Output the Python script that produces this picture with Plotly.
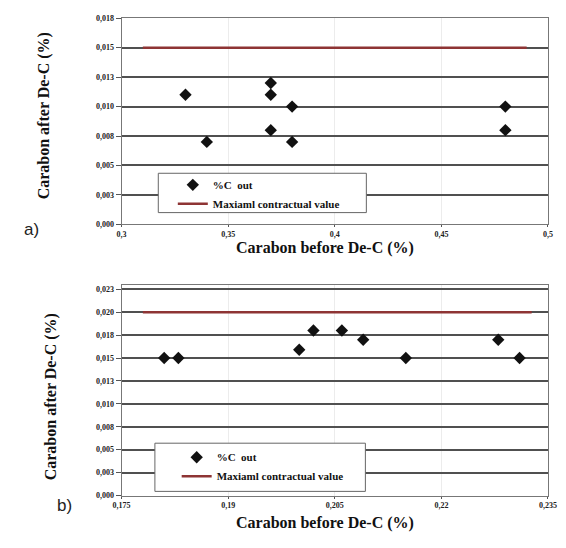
import plotly.graph_objects as go

# ---------------- data ----------------
# panel a)
a_x = [0.33, 0.34, 0.37, 0.37, 0.37, 0.38, 0.38, 0.48, 0.48]
a_y = [0.011, 0.007, 0.012, 0.011, 0.008, 0.010, 0.007, 0.010, 0.008]
a_max_x = [0.31, 0.49]
a_max_y = [0.015, 0.015]
a_xticks = [0.3, 0.35, 0.4, 0.45, 0.5]
a_xtext = ["0,3", "0,35", "0,4", "0,45", "0,5"]
a_yticks = [0, 0.0025, 0.005, 0.0075, 0.01, 0.0125, 0.015, 0.0175]
a_ytext = ["0,000", "0,003", "0,005", "0,008", "0,010", "0,013", "0,015", "0,018"]

# panel b)
b_x = [0.181, 0.183, 0.200, 0.202, 0.206, 0.209, 0.215, 0.228, 0.231]
b_y = [0.015, 0.015, 0.0159, 0.018, 0.018, 0.017, 0.015, 0.017, 0.015]
b_max_x = [0.178, 0.2327]
b_max_y = [0.020, 0.020]
b_xticks = [0.175, 0.19, 0.205, 0.22, 0.235]
b_xtext = ["0,175", "0,19", "0,205", "0,22", "0,235"]
b_yticks = [0, 0.0025, 0.005, 0.0075, 0.01, 0.0125, 0.015, 0.0175, 0.02, 0.0225]
b_ytext = ["0,000", "0,003", "0,005", "0,008", "0,010", "0,013", "0,015", "0,018", "0,020", "0,023"]

names = ["%C  out", "Maxiaml contractual value"]
x_title = "Carabon before De-C (%)"
y_title = "Carabon after De-C (%)"

# ---------------- figure ----------------
# the page body adds an 8px margin, so the figure is placed 8px in and
# reference pixel coordinates are shifted by 8px
OFF = 8
W, H = 566 - OFF, 548 - OFF
def px(x):
    return (x - OFF) / W
def py(y):
    return 1 - (y - OFF) / H

SERIF = "Liberation Serif"
mcol = "#111111"
rcol = "#8e3434"

fig = go.Figure()
fig.add_trace(go.Scatter(x=a_x, y=a_y, mode="markers", name=names[0],
                         marker=dict(symbol="diamond", size=9.5, color=mcol),
                         xaxis="x", yaxis="y", legend="legend"))
fig.add_trace(go.Scatter(x=a_max_x, y=a_max_y, mode="lines", name=names[1],
                         line=dict(color=rcol, width=2.5),
                         xaxis="x", yaxis="y", legend="legend"))
fig.add_trace(go.Scatter(x=b_x, y=b_y, mode="markers", name=names[0],
                         marker=dict(symbol="diamond", size=9.5, color=mcol),
                         xaxis="x2", yaxis="y2", legend="legend2"))
fig.add_trace(go.Scatter(x=b_max_x, y=b_max_y, mode="lines", name=names[1],
                         line=dict(color=rcol, width=2.5),
                         xaxis="x2", yaxis="y2", legend="legend2"))

tickfont = dict(family=SERIF, size=8, color="#222", weight="bold")
common_x = dict(showgrid=True, gridcolor="#ececec", gridwidth=1, zeroline=False,
                showline=True, linecolor="#777", linewidth=1, mirror=True,
                ticks="outside", ticklen=2, tickcolor="#555", tickfont=tickfont)
common_y = dict(showgrid=True, gridcolor="#505050", gridwidth=1.5, zeroline=False,
                showline=True, linecolor="#777", linewidth=1, mirror=True,
                ticks="outside", ticklen=5, tickcolor="#555", tickfont=tickfont)

legfont = dict(family=SERIF, size=11, color="#111", weight="bold")
fig.update_layout(
    width=W, height=H,
    margin=dict(l=0, r=0, t=0, b=0),
    paper_bgcolor="white", plot_bgcolor="white",
    xaxis=dict(domain=[px(116), px(556.7)], range=[0.3, 0.5], anchor="y",
               tickvals=a_xticks, ticktext=a_xtext, **common_x),
    yaxis=dict(domain=[py(224), py(14.3)], range=[0, 0.0175], anchor="x",
               tickvals=a_yticks, ticktext=a_ytext, **common_y),
    xaxis2=dict(domain=[px(116), px(556.7)], range=[0.175, 0.235], anchor="y2",
                tickvals=b_xticks, ticktext=b_xtext, **common_x),
    yaxis2=dict(domain=[py(499.7), py(286)], range=[0, 0.02293], anchor="x2",
                tickvals=b_yticks, ticktext=b_ytext, **common_y),
    legend=dict(x=px(169), y=py(169), xanchor="left", yanchor="top",
                bgcolor="rgba(0,0,0,0)", borderwidth=0, font=legfont),
    legend2=dict(x=px(173), y=py(446), xanchor="left", yanchor="top",
                 bgcolor="rgba(0,0,0,0)", borderwidth=0, font=legfont),
    showlegend=True,
)

# legend frames
fig.add_shape(type="rect", xref="paper", yref="paper",
              x0=px(154), x1=px(369), y0=py(212), y1=py(172),
              fillcolor="white", line=dict(color="#666", width=1), layer="above")
fig.add_shape(type="rect", xref="paper", yref="paper",
              x0=px(150.5), x1=px(368), y0=py(495.5), y1=py(446.5),
              fillcolor="white", line=dict(color="#666", width=1), layer="above")

title_font = dict(family=SERIF, size=16, color="#111", weight="bold")
fig.add_annotation(text=x_title, x=px(326), y=py(248), xref="paper", yref="paper",
                   showarrow=False, font=title_font, xanchor="center", yanchor="middle")
fig.add_annotation(text=x_title, x=px(326), y=py(528), xref="paper", yref="paper",
                   showarrow=False, font=title_font, xanchor="center", yanchor="middle")
fig.add_annotation(text=y_title, x=px(36), y=py(114), xref="paper", yref="paper",
                   showarrow=False, font=title_font, textangle=-90,
                   xanchor="center", yanchor="middle")
fig.add_annotation(text=y_title, x=px(44), y=py(399), xref="paper", yref="paper",
                   showarrow=False, font=title_font, textangle=-90,
                   xanchor="center", yanchor="middle")

lab_font = dict(family="Liberation Sans", size=17, color="#222")
fig.add_annotation(text="a)", x=px(23), y=py(229), xref="paper", yref="paper",
                   showarrow=False, font=lab_font, xanchor="center", yanchor="middle")
fig.add_annotation(text="b)", x=px(57), y=py(510), xref="paper", yref="paper",
                   showarrow=False, font=lab_font, xanchor="center", yanchor="middle")

fig.write_html("out.html")
